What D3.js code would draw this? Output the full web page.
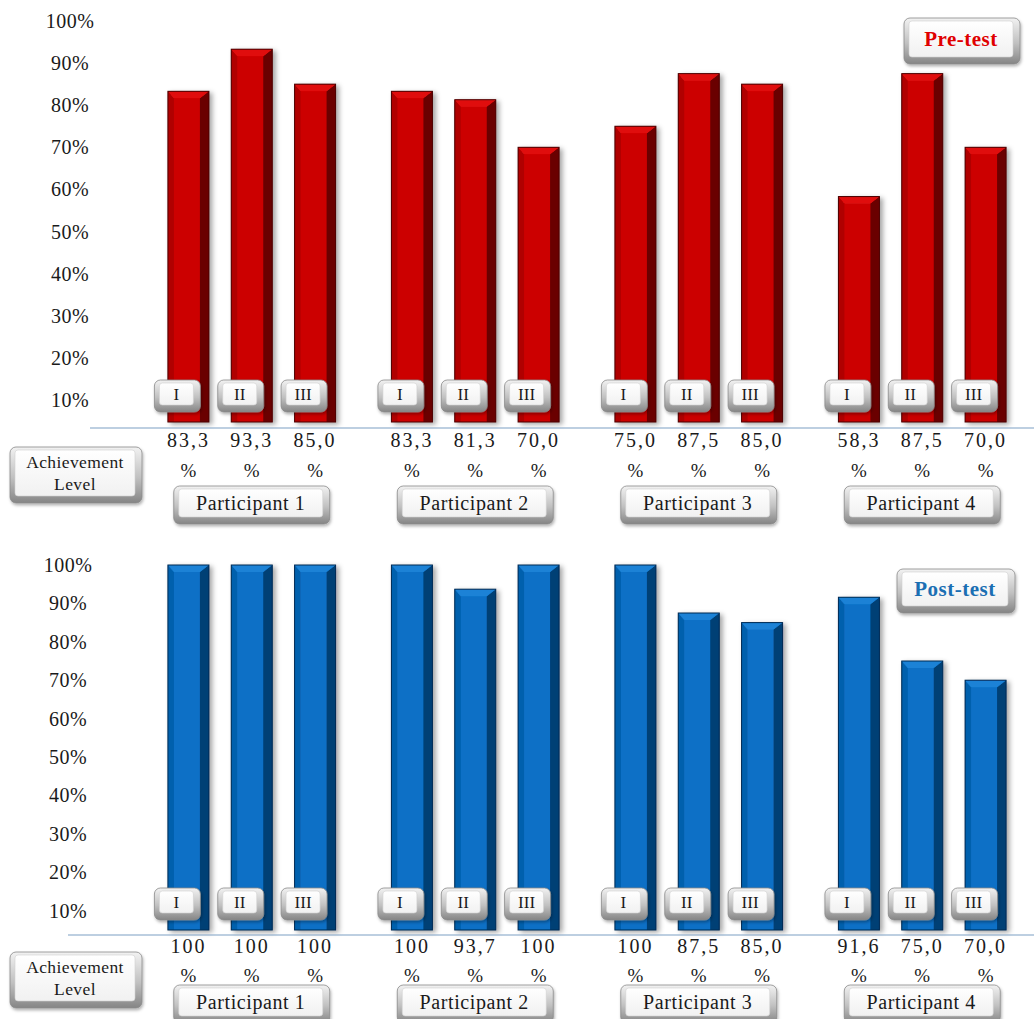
<!DOCTYPE html>
<html>
<head>
<meta charset="utf-8">
<script src="https://cdn.jsdelivr.net/npm/d3@7"></script>
<style>
  html, body { margin: 0; padding: 0; background: #ffffff; }
  svg { display: block; font-family: "Liberation Serif", "DejaVu Serif", serif; }
</style>
</head>
<body>
<svg id="chart" width="1034" height="1019"></svg>
<script>
// ---- data ----
const participants = ["Participant 1", "Participant 2", "Participant 3", "Participant 4"];
const levels = ["I", "II", "III"];
const preTest = [
  [83.3, 93.3, 85.0],
  [83.3, 81.3, 70.0],
  [75.0, 87.5, 85.0],
  [58.3, 87.5, 70.0]
];
const postTest = [
  [100, 100, 100],
  [100, 93.7, 100],
  [100, 87.5, 85.0],
  [91.6, 75.0, 70.0]
];
const tickValues = [10, 20, 30, 40, 50, 60, 70, 80, 90, 100];
const panelTitles = ["Pre-test", "Post-test"];
const rowTitle = ["Achievement", "Level"];

// ---- layout ----
const svg = d3.select("#chart");
const defs = svg.append("defs");

const shadow = defs.append("filter").attr("id", "shadow")
  .attr("x", "-30%").attr("y", "-10%").attr("width", "160%").attr("height", "130%");
shadow.append("feDropShadow").attr("dx", 3).attr("dy", 2).attr("stdDeviation", 2.5)
  .attr("flood-color", "#000").attr("flood-opacity", 0.35);

const keyShadow = defs.append("filter").attr("id", "keyShadow")
  .attr("x", "-20%").attr("y", "-20%").attr("width", "140%").attr("height", "160%");
keyShadow.append("feDropShadow").attr("dx", 1).attr("dy", 2).attr("stdDeviation", 1.5)
  .attr("flood-color", "#000").attr("flood-opacity", 0.3);

function grad(id, stops, vertical = true) {
  const g = defs.append("linearGradient").attr("id", id)
    .attr("x1", 0).attr("y1", 0).attr("x2", vertical ? 0 : 1).attr("y2", vertical ? 1 : 0);
  stops.forEach(([o, c]) => g.append("stop").attr("offset", o).attr("stop-color", c));
}
grad("keyOuter", [[0, "#f2f2f2"], [0.55, "#c0c0c0"], [1, "#858585"]]);
grad("keyFace", [[0, "#ffffff"], [1, "#f1f1f1"]]);

// Keyboard-key style label box
function keyButton(g, cx, cy, w, h, lines, opts = {}) {
  const k = g.append("g").attr("filter", "url(#keyShadow)");
  const x = cx - w / 2, y = cy - h / 2;
  k.append("rect").attr("x", x).attr("y", y).attr("width", w).attr("height", h)
    .attr("rx", 6).attr("fill", "url(#keyOuter)").attr("stroke", "#8a8a8a").attr("stroke-width", 0.8);
  const [inL, inT, inR, inB] = opts.inset || [5, 3, 7, 7];
  k.append("rect").attr("x", x + inL).attr("y", y + inT)
    .attr("width", w - inL - inR).attr("height", h - inT - inB)
    .attr("rx", 3).attr("fill", "url(#keyFace)").attr("stroke", "#d0d0d0").attr("stroke-width", 0.6);
  const fs = opts.fontSize || 16;
  const faceCy = y + inT + (h - inT - inB) / 2;
  const lh = opts.lineHeight || fs * 1.25;
  lines.forEach((t, i) => {
    g.append("text")
      .attr("x", x + inL + (w - inL - inR) / 2)
      .attr("y", faceCy + (i - (lines.length - 1) / 2) * lh)
      .attr("dy", "0.35em")
      .attr("text-anchor", "middle")
      .attr("font-size", fs)
      .attr("letter-spacing", opts.spacing || 0)
      .attr("font-weight", opts.bold ? "bold" : "normal")
      .attr("fill", opts.color || "#1a1a1a")
      .text(t);
  });
}

const fmt = v => v === 100 ? "100" : v.toFixed(1).replace(".", ",");

const xGroup = d3.scaleBand().domain(participants).range([140, 1034]);
const xLevel = d3.scaleBand().domain(levels).range([-95, 95]);
const barW = 41, sideW = 9, bevel = 7;

const panels = [
  { data: preTest, title: panelTitles[0], yRange: [442, 21], baseline: 422, axisY: 428, axisX0: 90,
    tickX: 70, colors: { face: "#cc0000", top: "#e01010", left: "#b00000", side: "#6a0000", edge: "#4a0000" },
    titleColor: "#e00000", titleBox: [962, 41, 116, 46],
    valY: 440, pctY: 470, partY: 505, achY: 475 },
  { data: postTest, title: panelTitles[1], yRange: [949, 565], baseline: 930, axisY: 935, axisX0: 68,
    tickX: 68, colors: { face: "#0a70c6", top: "#1a82d6", left: "#0660ad", side: "#053f75", edge: "#022a52" },
    titleColor: "#1b6fb3", titleBox: [956, 591, 118, 44],
    valY: 946, pctY: 975, partY: 1004, achY: 980 }
];

panels.forEach(p => {
  const g = svg.append("g");
  const y = d3.scaleLinear().domain([0, 100]).range(p.yRange);

  // tick labels
  g.selectAll(".tick").data(tickValues).join("text")
    .attr("x", p.tickX).attr("y", d => y(d)).attr("dy", "0.35em")
    .attr("text-anchor", "middle").attr("font-size", 20).attr("letter-spacing", 0.5)
    .attr("fill", "#1a1a1a")
    .text(d => d + "%");

  // bars
  participants.forEach((name, gi) => {
    levels.forEach((lv, li) => {
      const v = p.data[gi][li];
      const cx = xGroup(name) + xGroup.bandwidth() / 2 + xLevel(lv) + xLevel.bandwidth() / 2;
      const x0 = cx - barW / 2, x1 = cx + barW / 2;
      const top = y(v), bot = p.baseline;
      const b = g.append("g").attr("filter", "url(#shadow)");
      b.append("rect").attr("x", x0).attr("y", top).attr("width", barW).attr("height", bot - top)
        .attr("fill", p.colors.face);
      // left bevel
      b.append("polygon").attr("points", [[x0, top], [x0 + 6, top + bevel], [x0 + 6, bot], [x0, bot]].join(" "))
        .attr("fill", p.colors.left);
      // right side
      b.append("polygon").attr("points", [[x1 - sideW, top + bevel], [x1, top], [x1, bot], [x1 - sideW, bot]].join(" "))
        .attr("fill", p.colors.side);
      // top bevel
      b.append("polygon").attr("points", [[x0, top], [x1, top], [x1 - sideW, top + bevel], [x0 + 6, top + bevel]].join(" "))
        .attr("fill", p.colors.top);
      b.append("rect").attr("x", x0).attr("y", top).attr("width", barW).attr("height", bot - top)
        .attr("fill", "none").attr("stroke", p.colors.edge).attr("stroke-width", 1);

      // level key
      keyButton(g, cx - 11, bot - 26, 46, 32, [lv], { fontSize: 17 });

      // value label
      g.append("text").attr("x", cx).attr("y", p.valY).attr("dy", "0.35em")
        .attr("text-anchor", "middle").attr("font-size", 20).attr("fill", "#1a1a1a")
        .attr("letter-spacing", 2).text(fmt(v));
      g.append("text").attr("x", cx).attr("y", p.pctY).attr("dy", "0.35em")
        .attr("text-anchor", "middle").attr("font-size", 19).attr("fill", "#1a1a1a")
        .text("%");
    });
    // participant key
    keyButton(g, xGroup(name) + xGroup.bandwidth() / 2, p.partY, 156, 38, [name],
      { fontSize: 20, spacing: 0.6 });
  });

  // axis line
  g.append("line").attr("x1", p.axisX0).attr("x2", 1034).attr("y1", p.axisY).attr("y2", p.axisY)
    .attr("stroke", "#7c9fc4").attr("stroke-width", 1.2);

  // row title key
  keyButton(g, 76, p.achY, 132, 56, rowTitle, { fontSize: 17.5, lineHeight: 22, spacing: 0.4 });

  // panel title key
  const [tx, ty, tw, th] = p.titleBox;
  keyButton(g, tx, ty, tw, th, [p.title], { fontSize: 21, bold: true, color: p.titleColor, spacing: 0.5 });
});
</script>
</body>
</html>
